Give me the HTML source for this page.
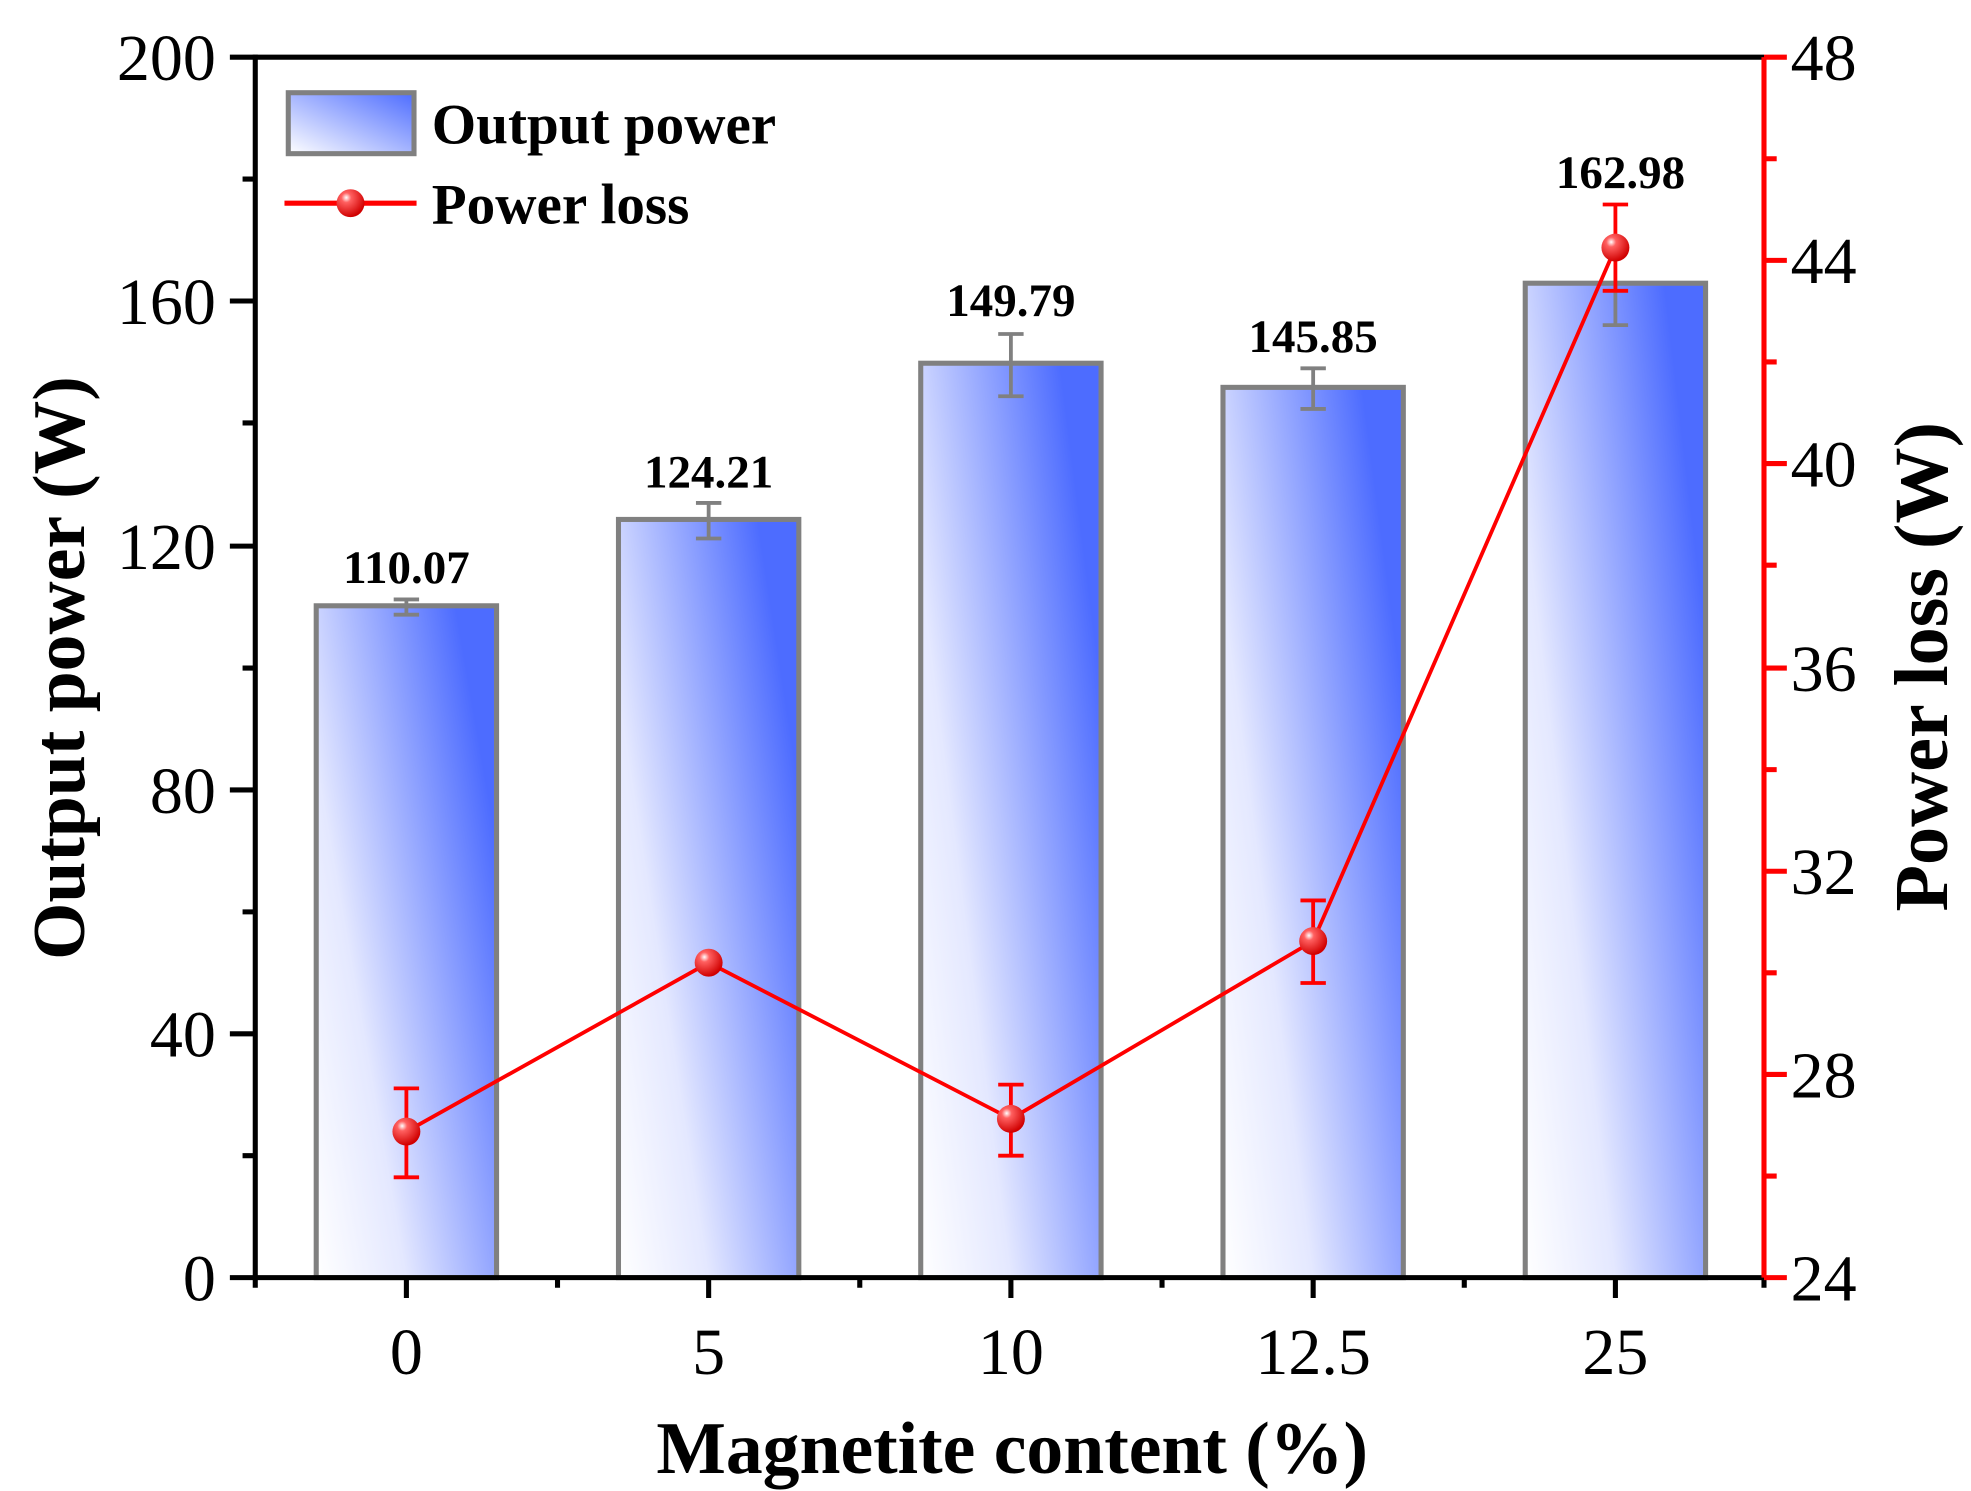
<!DOCTYPE html>
<html><head><meta charset="utf-8"><style>html,body{margin:0;padding:0;background:#fff}svg{display:block}</style></head>
<body>
<svg width="1971" height="1491" viewBox="0 0 1552 1174" preserveAspectRatio="none" xmlns="http://www.w3.org/2000/svg" font-family="'Liberation Serif',serif">
<defs>
<linearGradient id="g" x1="0" y1="1" x2="1" y2="0.35">
<stop offset="0" stop-color="#ffffff"/><stop offset="0.35" stop-color="#e4e8ff"/><stop offset="1" stop-color="#4d6cff"/>
</linearGradient>
<linearGradient id="gl" x1="0" y1="1" x2="1" y2="0">
<stop offset="0" stop-color="#ffffff"/><stop offset="1" stop-color="#4d6cff"/>
</linearGradient>
<radialGradient id="m" cx="0.35" cy="0.3" r="0.7">
<stop offset="0" stop-color="#fff"/><stop offset="0.25" stop-color="#ff6060"/><stop offset="1" stop-color="#d00000"/>
</radialGradient>
</defs>
<g stroke="#808080" stroke-width="4">
<rect x="249" y="477" width="142" height="529" fill="url(#g)"/>
<rect x="487" y="409" width="142" height="597" fill="url(#g)"/>
<rect x="725" y="286" width="142" height="720" fill="url(#g)"/>
<rect x="963" y="305" width="142" height="701" fill="url(#g)"/>
<rect x="1201" y="223" width="142" height="783" fill="url(#g)"/>
</g>
<g stroke="#808080" stroke-width="3" fill="none">
<path d="M320 472V484M310 472H330M310 484H330"/>
<path d="M558 396V424M548 396H568M548 424H568"/>
<path d="M796 263V312M786 263H806M786 312H806"/>
<path d="M1034 290V322M1024 290H1044M1024 322H1044"/>
<path d="M1272 223V256M1262 256H1282"/>
</g>
<g font-weight="bold" font-size="37" text-anchor="middle" fill="#000">
<text x="320" y="459">110.07</text>
<text x="558" y="384">124.21</text>
<text x="796" y="249">149.79</text>
<text x="1034" y="277">145.85</text>
<text x="1276" y="148">162.98</text>
</g>
<g stroke="#ff0000" stroke-width="3" fill="none">
<polyline points="320,891 558,758 796,881 1034,741 1272,195"/>
<path d="M320 857V927M310 857H330M310 927H330"/>
<path d="M796 854V910M786 854H806M786 910H806"/>
<path d="M1034 709V774M1024 709H1044M1024 774H1044"/>
<path d="M1272 161V229M1262 161H1282M1262 229H1282"/>
</g>
<g fill="url(#m)">
<circle cx="320" cy="891" r="11"/><circle cx="558" cy="758" r="11"/><circle cx="796" cy="881" r="11"/><circle cx="1034" cy="741" r="11"/><circle cx="1272" cy="195" r="11"/>
</g>
<g stroke="#000" stroke-width="4" fill="none">
<path d="M201 45H1389"/>
<path d="M201 43V1006H1389"/>
<path d="M181 45H201M181 237H201M181 430H201M181 622H201M181 814H201M181 1006H201"/>
<path d="M191 141H201M191 333H201M191 526H201M191 718H201M191 910H201"/>
<path d="M320 1006V1022M558 1006V1022M796 1006V1022M1034 1006V1022M1272 1006V1022"/>
<path d="M201 1006V1014M439 1006V1014M677 1006V1014M915 1006V1014M1153 1006V1014M1389 1006V1014"/>
</g>
<g stroke="#ff0000" stroke-width="4" fill="none">
<path d="M1389 45V1006"/>
<path d="M1389 45H1407M1389 205H1407M1389 365H1407M1389 526H1407M1389 686H1407M1389 846H1407M1389 1006H1407"/>
<path d="M1389 125H1399M1389 285H1399M1389 445H1399M1389 606H1399M1389 766H1399M1389 926H1399"/>
</g>
<g font-size="52" text-anchor="end" fill="#000">
<text x="170" y="63">200</text><text x="170" y="255">160</text><text x="170" y="448">120</text><text x="170" y="640">80</text><text x="170" y="832">40</text><text x="170" y="1024">0</text>
</g>
<g font-size="52" fill="#000">
<text x="1410" y="63">48</text><text x="1410" y="223">44</text><text x="1410" y="383">40</text><text x="1410" y="544">36</text><text x="1410" y="704">32</text><text x="1410" y="864">28</text><text x="1410" y="1024">24</text>
</g>
<g font-size="52" text-anchor="middle" fill="#000">
<text x="320" y="1082">0</text><text x="558" y="1082">5</text><text x="796" y="1082">10</text><text x="1034" y="1082">12.5</text><text x="1272" y="1082">25</text>
</g>
<text x="797" y="1160" font-size="58" font-weight="bold" text-anchor="middle">Magnetite content (%)</text>
<text transform="translate(66,526) rotate(-90)" font-size="58" font-weight="bold" text-anchor="middle">Output power (W)</text>
<text transform="translate(1533,525) rotate(-90)" font-size="60" font-weight="bold" text-anchor="middle">Power loss (W)</text>
<rect x="227" y="73" width="99" height="48" fill="url(#gl)" stroke="#808080" stroke-width="4"/>
<text x="340" y="113" font-size="45" font-weight="bold">Output power</text>
<path d="M224 160H328" stroke="#ff0000" stroke-width="4"/>
<circle cx="276" cy="160" r="11" fill="url(#m)"/>
<text x="340" y="176" font-size="45" font-weight="bold">Power loss</text>
</svg>
</body></html>
